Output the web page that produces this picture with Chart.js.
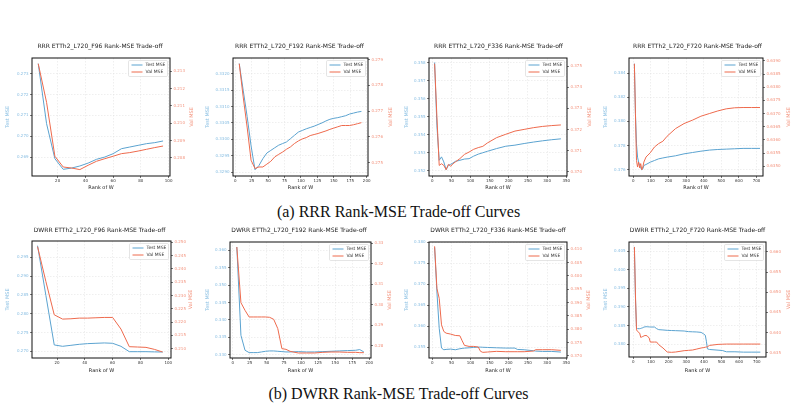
<!DOCTYPE html>
<html>
<head>
<meta charset="utf-8">
<script src="https://cdn.jsdelivr.net/npm/chart.js@4.4.0/dist/chart.umd.min.js"></script>
<style>
body { margin: 0; background: #fff; }
#page { position: relative; width: 797px; height: 409px; overflow: hidden; background: #fff; }
#page canvas { position: absolute; }
.caption { position: absolute; left: 0; width: 797px; text-align: center; font-family: "Liberation Serif", "Times New Roman", serif; font-size: 16px; color: #111; }
</style>
</head>
<body>
<div id="page">
  <div class="caption" style="top:203px">(a) RRR Rank-MSE Trade-off Curves</div>
  <div class="caption" style="top:385px">(b) DWRR Rank-MSE Trade-off Curves</div>
</div>
<script>
// Rank-MSE trade-off curves, 2 rows x 4 horizons, Test MSE (left axis) / Val MSE (right axis)

// ---- data: ranks ----
const rank96 = [6, 12, 18, 24, 30, 36, 42, 48, 54, 60, 66, 72, 78, 84, 90, 96];
const rank192 = [6, 12, 18, 24, 30, 36, 42, 48, 54, 60, 66, 72, 78, 84, 90, 96,
    102, 108, 114, 120, 126, 132, 138, 144, 150, 156, 162, 168, 174, 180, 186, 192];
const rrrRank336 = [6, 12, 18, 24, 30, 36, 42, 48, 54, 60, 72, 84, 96, 108, 120, 132, 144,
    168, 192, 216, 240, 264, 288, 312, 336];
const rrrRank720 = [6, 12, 18, 24, 30, 36, 42, 48, 54, 60, 72, 96, 120, 144, 168, 192,
    240, 288, 336, 384, 432, 480, 528, 576, 624, 672, 720];
const dwrrRank192 = [6, 12, 18, 24, 30, 36, 42, 48, 54, 60, 66, 72, 78, 84, 96, 108, 120,
    132, 144, 156, 168, 180, 186, 192];
const dwrrRank336 = [6, 12, 18, 24, 30, 36, 48, 60, 72, 78, 84, 96, 108, 120, 126, 132, 144,
    168, 192, 216, 222, 240, 264, 270, 288, 312, 336];
const dwrrRank720 = [6, 12, 18, 24, 36, 42, 48, 54, 60, 66, 72, 78, 90, 96, 120, 132, 144,
    168, 192, 216, 240, 288, 312, 336, 360, 384, 396, 408, 414, 420, 432, 480, 504, 528,
    576, 624, 672, 720];

// ---- data: RRR ----
const rrr96Test = [0.27348, 0.27060, 0.26892, 0.26841, 0.26847, 0.26857, 0.26871, 0.26889,
    0.26900, 0.26916, 0.26940, 0.26948, 0.26956, 0.26964, 0.26969, 0.26977];
const rrr96Val = [0.21344, 0.21121, 0.20810, 0.20748, 0.20742, 0.20733, 0.20758, 0.20781,
    0.20796, 0.20810, 0.20825, 0.20831, 0.20840, 0.20850, 0.20860, 0.20869];

const rrr192Test = [0.33231, 0.33150, 0.33070, 0.32980, 0.32907, 0.32920, 0.32941, 0.32958,
    0.32966, 0.32974, 0.32982, 0.32987, 0.32992, 0.33002, 0.33012, 0.33022,
    0.33027, 0.33032, 0.33036, 0.33040, 0.33045, 0.33050, 0.33056, 0.33061,
    0.33064, 0.33066, 0.33069, 0.33072, 0.33077, 0.33080, 0.33083, 0.33085];
const rrr192Val = [0.27884, 0.27755, 0.27638, 0.27509, 0.27477, 0.27483, 0.27483, 0.27494,
    0.27505, 0.27522, 0.27532, 0.27541, 0.27552, 0.27561, 0.27574, 0.27584,
    0.27592, 0.27597, 0.27605, 0.27609, 0.27613, 0.27618, 0.27623, 0.27629,
    0.27634, 0.27639, 0.27644, 0.27644, 0.27644, 0.27647, 0.27651, 0.27655];

const rrr336Test = [0.35801, 0.35450, 0.35259, 0.35278, 0.35250, 0.35207, 0.35231, 0.35237,
    0.35244, 0.35253, 0.35259, 0.35266, 0.35268, 0.35282, 0.35293, 0.35301, 0.35309,
    0.35324, 0.35337, 0.35343, 0.35352, 0.35360, 0.35367, 0.35373, 0.35378];
const rrr336Val = [0.37511, 0.37259, 0.37031, 0.37039, 0.37031, 0.37011, 0.37036, 0.37027,
    0.37039, 0.37047, 0.37063, 0.37083, 0.37094, 0.37107, 0.37115, 0.37121, 0.37137,
    0.37162, 0.37178, 0.37193, 0.37201, 0.37209, 0.37215, 0.37219, 0.37222];

const rrr720Test = [0.38477, 0.38063, 0.37815, 0.37705, 0.37663, 0.37636, 0.37617, 0.37600,
    0.37608, 0.37636, 0.37644, 0.37663, 0.37677, 0.37691, 0.37698, 0.37705,
    0.37716, 0.37732, 0.37743, 0.37754, 0.37763, 0.37768, 0.37771, 0.37774,
    0.37777, 0.37777, 0.37777];
const rrr720Val = [0.63889, 0.63699, 0.63522, 0.63497, 0.63516, 0.63494, 0.63510, 0.63487,
    0.63497, 0.63516, 0.63535, 0.63551, 0.63573, 0.63586, 0.63595, 0.63614,
    0.63643, 0.63662, 0.63675, 0.63690, 0.63700, 0.63710, 0.63718, 0.63722,
    0.63723, 0.63723, 0.63723];

// ---- data: DWRR ----
const dwrr96Test = [0.29809, 0.28484, 0.27170, 0.27134, 0.27160, 0.27187, 0.27205, 0.27214,
    0.27223, 0.27214, 0.27134, 0.26991, 0.26991, 0.26991, 0.26985, 0.26982];
const dwrr96Val = [0.24838, 0.23525, 0.22275, 0.22113, 0.22125, 0.22150, 0.22150, 0.22163,
    0.22175, 0.22175, 0.21738, 0.21075, 0.21063, 0.21050, 0.20975, 0.20875];

const dwrr192Test = [0.36096, 0.33557, 0.33126, 0.33059, 0.33059, 0.33059, 0.33078, 0.33097,
    0.33107, 0.33107, 0.33097, 0.33088, 0.33078, 0.33078, 0.33088, 0.33078, 0.33078,
    0.33088, 0.33097, 0.33107, 0.33117, 0.33126, 0.33146, 0.33078];
const dwrr192Val = [0.32806, 0.30104, 0.29731, 0.29409, 0.29409, 0.29409, 0.29409, 0.29409,
    0.29392, 0.29296, 0.28843, 0.27871, 0.27838, 0.27741, 0.27660, 0.27660, 0.27660,
    0.27693, 0.27709, 0.27709, 0.27693, 0.27693, 0.27676, 0.27676];

const dwrr336Test = [0.37882, 0.36817, 0.35950, 0.35477, 0.35437, 0.35445, 0.35453, 0.35437,
    0.35461, 0.35469, 0.35476, 0.35484, 0.35492, 0.35500, 0.35500, 0.35496, 0.35492,
    0.35484, 0.35477, 0.35477, 0.35445, 0.35437, 0.35413, 0.35405, 0.35397, 0.35397, 0.35382];
const dwrr336Val = [0.41112, 0.39534, 0.39161, 0.38168, 0.37919, 0.37857, 0.37820, 0.37770,
    0.37758, 0.37571, 0.37398, 0.37360, 0.37360, 0.37336, 0.37174, 0.37137, 0.37149,
    0.37174, 0.37161, 0.37161, 0.37161, 0.37161, 0.37186, 0.37236, 0.37236, 0.37236, 0.37211];

const dwrr720Test = [0.40612, 0.39233, 0.38432, 0.38415, 0.38415, 0.38420, 0.38432, 0.38440,
    0.38459, 0.38462, 0.38468, 0.38466, 0.38462, 0.38459, 0.38459, 0.38415, 0.38388,
    0.38380, 0.38370, 0.38365, 0.38361, 0.38352, 0.38335, 0.38330, 0.38326, 0.38315,
    0.38281, 0.38237, 0.38077, 0.37872, 0.37855, 0.37837, 0.37828, 0.37793, 0.37793,
    0.37784, 0.37784, 0.37784];
const dwrr720Val = [0.66124, 0.64931, 0.64068, 0.64027, 0.63985, 0.63879, 0.63890, 0.63903,
    0.63915, 0.63928, 0.63924, 0.63920, 0.63862, 0.63764, 0.63764, 0.63764, 0.63698,
    0.63616, 0.63517, 0.63509, 0.63517, 0.63550, 0.63558, 0.63566, 0.63591, 0.63616,
    0.63625, 0.63635, 0.63642, 0.63648, 0.63681, 0.63706, 0.63710, 0.63714, 0.63714,
    0.63714, 0.63714, 0.63714];

// ---- tick labels ----
const xTicks96 = ['20', '40', '60', '80', '100'];
const xTicks192 = ['0', '25', '50', '75', '100', '125', '150', '175', '200'];
const xTicks336 = ['0', '50', '100', '150', '200', '250', '300', '350'];
const xTicks720 = ['0', '100', '200', '300', '400', '500', '600', '700'];

const rrr96TestTicks = ['0.269', '0.270', '0.271', '0.272', '0.273'];
const rrr96ValTicks = ['0.208', '0.209', '0.210', '0.211', '0.212', '0.213'];
const rrr192TestTicks = ['0.3290', '0.3295', '0.3300', '0.3305', '0.3310', '0.3315', '0.3320'];
const rrr192ValTicks = ['0.275', '0.276', '0.277', '0.278', '0.279'];
const rrr336TestTicks = ['0.352', '0.353', '0.354', '0.355', '0.356', '0.357', '0.358'];
const rrr336ValTicks = ['0.370', '0.371', '0.372', '0.373', '0.374', '0.375'];
const rrr720TestTicks = ['0.376', '0.378', '0.380', '0.382', '0.384'];
const rrr720ValTicks = ['0.6350', '0.6355', '0.6360', '0.6365', '0.6370', '0.6375', '0.6380', '0.6385', '0.6390'];

const dwrr96TestTicks = ['0.270', '0.275', '0.280', '0.285', '0.290', '0.295'];
const dwrr96ValTicks = ['0.210', '0.215', '0.220', '0.225', '0.230', '0.235', '0.240', '0.245', '0.250'];
const dwrr192TestTicks = ['0.330', '0.335', '0.340', '0.345', '0.350', '0.355', '0.360'];
const dwrr192ValTicks = ['0.28', '0.29', '0.30', '0.31', '0.32', '0.33'];
const dwrr336TestTicks = ['0.355', '0.360', '0.365', '0.370', '0.375', '0.380'];
const dwrr336ValTicks = ['0.370', '0.375', '0.380', '0.385', '0.390', '0.395', '0.400', '0.405', '0.410'];
const dwrr720TestTicks = ['0.380', '0.385', '0.390', '0.395', '0.400', '0.405'];
const dwrr720ValTicks = ['0.635', '0.640', '0.645', '0.650', '0.655', '0.660'];

// ---- styling ----
const FONT = '"DejaVu Sans", Verdana, sans-serif';
const TEST_COLOR = '#5ba3d0';
const VAL_COLOR = '#ee6a4d';
const TEST_TICK = '#86bde2';
const VAL_TICK = '#f3937d';

// ---- panel layout (plot box in page px, axis ranges) ----
const panels = [
    { title: 'RRR ETTh2_L720_F96 Rank-MSE Trade-off', ranks: rank96, test: rrr96Test, val: rrr96Val,
      xTicks: xTicks96, testTicks: rrr96TestTicks, valTicks: rrr96ValTicks,
      box: [32, 58, 170, 176], lt: 8, rt: 192, ty: 46, xy: 188,
      xr: [1.5, 101], lr: [0.26809, 0.27375], rr: [0.20696, 0.21377] },
    { title: 'RRR ETTh2_L720_F192 Rank-MSE Trade-off', ranks: rank192, test: rrr192Test, val: rrr192Val,
      xTicks: xTicks192, testTicks: rrr192TestTicks, valTicks: rrr192ValTicks,
      box: [233, 58, 368, 176], lt: 208, rt: 391, ty: 46, xy: 188,
      xr: [-3.5, 202], lr: [0.32888, 0.33248], rr: [0.27448, 0.27906] },
    { title: 'RRR ETTh2_L720_F336 Rank-MSE Trade-off', ranks: rrrRank336, test: rrr336Test, val: rrr336Val,
      xTicks: xTicks336, testTicks: rrr336TestTicks, valTicks: rrr336ValTicks,
      box: [429, 58, 567, 176], lt: 407, rt: 590, ty: 46, xy: 188,
      xr: [-8.7, 352], lr: [0.35172, 0.35826], rr: [0.36981, 0.37538] },
    { title: 'RRR ETTh2_L720_F720 Rank-MSE Trade-off', ranks: rrrRank720, test: rrr720Test, val: rrr720Val,
      xTicks: xTicks720, testTicks: rrr720TestTicks, valTicks: rrr720ValTicks,
      box: [629, 58, 763, 176], lt: 606, rt: 789, ty: 46, xy: 188,
      xr: [-24.6, 737], lr: [0.37549, 0.38524], rr: [0.63463, 0.63911] },
    { title: 'DWRR ETTh2_L720_F96 Rank-MSE Trade-off', ranks: rank96, test: dwrr96Test, val: dwrr96Val,
      xTicks: xTicks96, testTicks: dwrr96TestTicks, valTicks: dwrr96ValTicks,
      box: [32, 241, 171, 358], lt: 8, rt: 191, ty: 230, xy: 371,
      xr: [2, 102], lr: [0.26823, 0.29933], rr: [0.2065, 0.2505] },
    { title: 'DWRR ETTh2_L720_F192 Rank-MSE Trade-off', ranks: dwrrRank192, test: dwrr192Test, val: dwrr192Val,
      xTicks: xTicks192, testTicks: dwrr192TestTicks, valTicks: dwrr192ValTicks,
      box: [230, 242, 371, 358], lt: 208, rt: 390, ty: 230, xy: 371,
      xr: [-4, 202.5], lr: [0.32904, 0.36239], rr: [0.27417, 0.33049] },
    { title: 'DWRR ETTh2_L720_F336 Rank-MSE Trade-off', ranks: dwrrRank336, test: dwrr336Test, val: dwrr336Val,
      xTicks: xTicks336, testTicks: dwrr336TestTicks, valTicks: dwrr336ValTicks,
      box: [429, 242, 567, 358], lt: 407, rt: 589, ty: 230, xy: 371,
      xr: [-8.7, 352], lr: [0.3524, 0.3801], rr: [0.36925, 0.41273] },
    { title: 'DWRR ETTh2_L720_F720 Rank-MSE Trade-off', ranks: dwrrRank720, test: dwrr720Test, val: dwrr720Val,
      xTicks: xTicks720, testTicks: dwrr720TestTicks, valTicks: dwrr720ValTicks,
      box: [629, 242, 766, 357], lt: 606, rt: 789, ty: 230, xy: 371,
      xr: [-24.6, 752], lr: [0.37653, 0.40745], rr: [0.63393, 0.66247] }
];

// Replace generated ticks with the fixed label list
function fixedTicks(labels) {
    return function (scale) {
        scale.ticks = labels.map(s => ({ value: parseFloat(s) }));
    };
}

// Black frame, inside legend and right-hand axis label (bottom-to-top like matplotlib)
const framePlugin = {
    id: 'frameAndLegend',
    afterDraw(chart) {
        const ctx = chart.ctx;
        const a = chart.chartArea;
        ctx.save();
        ctx.strokeStyle = '#111';
        ctx.lineWidth = 1;
        ctx.strokeRect(a.left, a.top, a.right - a.left, a.bottom - a.top);

        // legend box
        const w = 39, h = 16;
        const x = a.right - w - 2.5, y = a.top + 2.5;
        ctx.fillStyle = 'rgba(255,255,255,0.85)';
        ctx.strokeStyle = '#d4d4d4';
        ctx.lineWidth = 0.6;
        ctx.beginPath();
        ctx.roundRect(x, y, w, h, 1.2);
        ctx.fill();
        ctx.stroke();
        ctx.font = '4.5px ' + FONT;
        ctx.textBaseline = 'middle';
        ctx.textAlign = 'left';
        chart.data.datasets.forEach((ds, i) => {
            const ry = y + 4.5 + i * 7;
            ctx.strokeStyle = ds.borderColor;
            ctx.lineWidth = 1;
            ctx.beginPath();
            ctx.moveTo(x + 3, ry);
            ctx.lineTo(x + 14, ry);
            ctx.stroke();
            ctx.fillStyle = '#333';
            ctx.fillText(ds.label, x + 17, ry);
        });

        // right axis label
        ctx.translate(chart.width - 4, (a.top + a.bottom) / 2);
        ctx.rotate(-Math.PI / 2);
        ctx.textAlign = 'center';
        ctx.font = '5px ' + FONT;
        ctx.fillStyle = VAL_TICK;
        ctx.fillText('Val MSE', 0, 0);
        ctx.restore();
    }
};

function makePanel(p) {
    const page = document.getElementById('page');
    const [bl, bt, br, bb] = p.box;
    const cl = p.lt - 4, cr = p.rt + 4, ct = p.ty - 6, cb = p.xy + 4;

    const canvas = document.createElement('canvas');
    canvas.width = cr - cl;
    canvas.height = cb - ct;
    canvas.style.left = cl + 'px';
    canvas.style.top = ct + 'px';
    canvas.style.width = (cr - cl) + 'px';
    canvas.style.height = (cb - ct) + 'px';
    page.appendChild(canvas);

    const tickFont = { family: FONT, size: 4 };
    const titleLine = 6 * 1.2;

    new Chart(canvas, {
        type: 'line',
        data: {
            datasets: [
                {
                    label: 'Test MSE',
                    data: p.ranks.map((r, i) => ({ x: r, y: p.test[i] })),
                    borderColor: TEST_COLOR,
                    borderWidth: 1,
                    pointRadius: 0,
                    yAxisID: 'y',
                    order: 1
                },
                {
                    label: 'Val MSE',
                    data: p.ranks.map((r, i) => ({ x: r, y: p.val[i] })),
                    borderColor: VAL_COLOR,
                    borderWidth: 1,
                    pointRadius: 0,
                    yAxisID: 'y1',
                    order: 0
                }
            ]
        },
        options: {
            responsive: false,
            animation: false,
            devicePixelRatio: 1,
            layout: { padding: 0 },
            plugins: {
                legend: { display: false },
                tooltip: { enabled: false },
                title: {
                    display: true,
                    text: p.title,
                    color: '#222',
                    font: { family: FONT, size: 6, weight: 'normal' },
                    padding: { top: 2.4, bottom: (bt - ct) - 2.4 - titleLine }
                }
            },
            scales: {
                x: {
                    type: 'linear',
                    min: p.xr[0],
                    max: p.xr[1],
                    bounds: 'data',
                    afterBuildTicks: fixedTicks(p.xTicks),
                    afterFit: s => { s.height = cb - bb; },
                    ticks: {
                        font: tickFont, color: '#333', padding: 1,
                        autoSkip: false, maxRotation: 0,
                        callback: (v, i) => p.xTicks[i]
                    },
                    grid: { color: '#dedede', lineWidth: 0.5, tickLength: 2, tickColor: '#222', tickWidth: 0.6 },
                    border: { display: false, dash: [1.5, 1.5] },
                    title: {
                        display: true, text: 'Rank of W', color: '#222',
                        font: { family: FONT, size: 5 }, padding: { top: 0, bottom: 1 }
                    }
                },
                y: {
                    type: 'linear',
                    position: 'left',
                    min: p.lr[0],
                    max: p.lr[1],
                    bounds: 'data',
                    afterBuildTicks: fixedTicks(p.testTicks),
                    afterFit: s => { s.width = bl - cl; },
                    ticks: {
                        font: tickFont, color: TEST_TICK, padding: 1.5,
                        autoSkip: false, callback: (v, i) => p.testTicks[i]
                    },
                    grid: { color: '#dedede', lineWidth: 0.5, tickLength: 2, tickColor: '#222', tickWidth: 0.6 },
                    border: { display: false, dash: [1.5, 1.5] },
                    title: {
                        display: true, text: 'Test MSE', color: TEST_TICK,
                        font: { family: FONT, size: 5 }, padding: { top: 1, bottom: 0 }
                    }
                },
                y1: {
                    type: 'linear',
                    position: 'right',
                    min: p.rr[0],
                    max: p.rr[1],
                    bounds: 'data',
                    afterBuildTicks: fixedTicks(p.valTicks),
                    afterFit: s => { s.width = cr - br; },
                    ticks: {
                        font: tickFont, color: VAL_TICK, padding: 1.5,
                        autoSkip: false, callback: (v, i) => p.valTicks[i]
                    },
                    grid: { drawOnChartArea: false, tickLength: 2, tickColor: '#222', tickWidth: 0.6 },
                    border: { display: false }
                }
            }
        },
        plugins: [framePlugin]
    });
}

panels.forEach(makePanel);
</script>
</body>
</html>
